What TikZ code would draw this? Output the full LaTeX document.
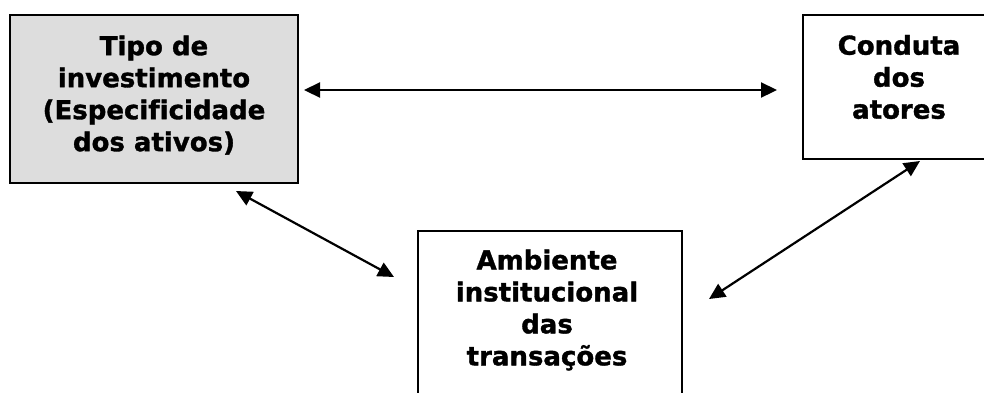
\documentclass[tikz,border=0pt]{standalone}
\usepackage{fontspec}
\setmainfont{DejaVu Sans}
\newfontfamily\vfont{DejaVu Sans Bold}[FakeBold=1.3, Ligatures=NoCommon]
\usetikzlibrary{arrows.meta}
\definecolor{boxgray}{HTML}{DDDDDD}
\tikzset{
  boxnode/.style={draw=black, line width=2pt, inner sep=0pt},
  txtnode/.style={align=center, font=\fontsize{26pt}{32pt}\selectfont\vfont, inner sep=0pt},
  dbl/.style={line width=2.2pt, {Triangle[length=16pt,width=15pt]}-{Triangle[length=16pt,width=15pt]}}
}
\begin{document}
\begin{tikzpicture}[x=1pt,y=-1pt]
\clip (0,0) rectangle (984,392);
\fill[white] (0,0) rectangle (984,392);
\node[boxnode, fill=boxgray, minimum width=288pt, minimum height=168pt] (b1) at (154,99) {};
\node[boxnode, fill=white, minimum width=192pt, minimum height=144pt] (b2) at (899,87) {};
\node[boxnode, fill=white, minimum width=264pt, minimum height=165pt] (b3) at (550,313.5) {};
\node[txtnode] (t1) at (154,95) {Tipo de\\investimento\\(Especificidade\\dos ativos)};
\node[txtnode] (t2) at (899,77) {Conduta\\dos\\atores};
\node[txtnode] (t3) at (547,310) {Ambiente\\institucional\\das\\transações};
\draw[dbl] ([xshift=5pt,yshift=9pt]b1.east) -- ([xshift=-25pt,yshift=-3pt]b2.west);
\draw[dbl] ([xshift=-63pt,yshift=-7pt]b1.south east) -- ([xshift=-23pt,yshift=-47pt]b3.north west);
\draw[dbl] ([xshift=21pt,yshift=-1pt]b2.south) -- ([xshift=26pt,yshift=-69pt]b3.north east);
\end{tikzpicture}
\end{document}
